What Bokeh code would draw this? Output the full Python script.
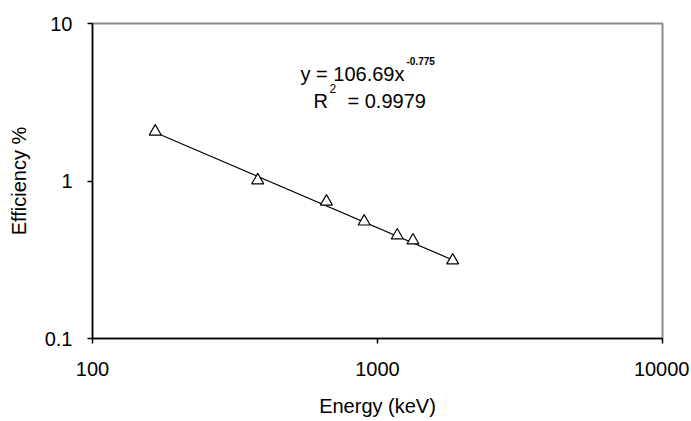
from bokeh.plotting import figure
from bokeh.models import FixedTicker, CustomJSTickFormatter, Label, ColumnDataSource
from bokeh.embed import file_html
from bokeh.resources import INLINE

# Data
energy_kev = [166, 380, 662, 898, 1173, 1332, 1836]
efficiency_pct = [2.06, 1.01, 0.74, 0.553, 0.451, 0.419, 0.313]

# Trendline (power fit as displayed on the chart)
fit_a = 106.69
fit_b = -0.775
fit_r2 = 0.9979

x_ticks = [100, 1000, 10000]
y_ticks = [0.1, 1, 10]

FONT = "Liberation Sans"
FRAME_L, FRAME_T, FRAME_W, FRAME_H = 92, 23, 570, 315

p = figure(
    x_axis_type="log", y_axis_type="log",
    x_range=(100, 10000), y_range=(0.1, 10),
    frame_width=FRAME_W, frame_height=FRAME_H,
    min_border_left=FRAME_L, min_border_right=27,
    min_border_top=FRAME_T, min_border_bottom=81,
    output_backend="svg", toolbar_location=None,
    background_fill_color="white", border_fill_color="white",
)

p.grid.visible = False
p.outline_line_color = "#8a8a8a"
p.outline_line_width = 2

for ax, ticks in ((p.xaxis[0], x_ticks), (p.yaxis[0], y_ticks)):
    ax.ticker = FixedTicker(ticks=ticks)
    ax.formatter = CustomJSTickFormatter(code="return String(tick);")
    ax.minor_tick_line_color = None
    ax.major_tick_in = 0
    ax.major_tick_out = 5
    ax.major_tick_line_color = "black"
    ax.axis_line_color = "black"
    ax.axis_line_width = 1.5
    ax.major_tick_line_width = 1.5
    ax.major_label_text_font = FONT
    ax.major_label_text_font_size = "20px"
    ax.major_label_text_color = "black"
    ax.axis_label_text_font = FONT
    ax.axis_label_text_font_size = "20px"
    ax.axis_label_text_font_style = "normal"
    ax.axis_label_text_color = "black"

p.xaxis.axis_label = "Energy (keV)"
p.yaxis.axis_label = "Efficiency %"
p.xaxis.major_label_standoff = 18
p.xaxis.axis_label_standoff = 16
p.yaxis.major_label_standoff = 15
p.yaxis.axis_label_standoff = 12

# Trendline across the data range (straight in log-log space)
e_lo, e_hi = min(energy_kev), max(energy_kev)
p.line([e_lo, e_hi], [fit_a * e_lo ** fit_b, fit_a * e_hi ** fit_b],
       line_color="black", line_width=1.2)

src = ColumnDataSource(dict(x=energy_kev, y=efficiency_pct))
p.scatter("x", "y", source=src, marker="triangle", size=12,
          fill_color="white", line_color="black", line_width=1.2)


def add_text(txt, px, base, size, bold=False):
    # px, base: page pixel position (left edge, baseline); converted to frame-relative
    p.add_layout(Label(x=px - FRAME_L, y=FRAME_T + FRAME_H - base,
                       x_units="screen", y_units="screen",
                       text=txt, text_font=FONT, text_font_size=size,
                       text_font_style="bold" if bold else "normal",
                       text_color="black", text_baseline="alphabetic"))


add_text("y = 106.69x", 300, 73, "20px")
add_text(f"{fit_b}", 406, 60, "10px", bold=True)
add_text("R", 313, 100, "20px")
add_text("2", 329, 88, "12px")
add_text(f"= {fit_r2}", 347, 100, "20px")

open("out.html", "w").write(file_html(p, INLINE))
